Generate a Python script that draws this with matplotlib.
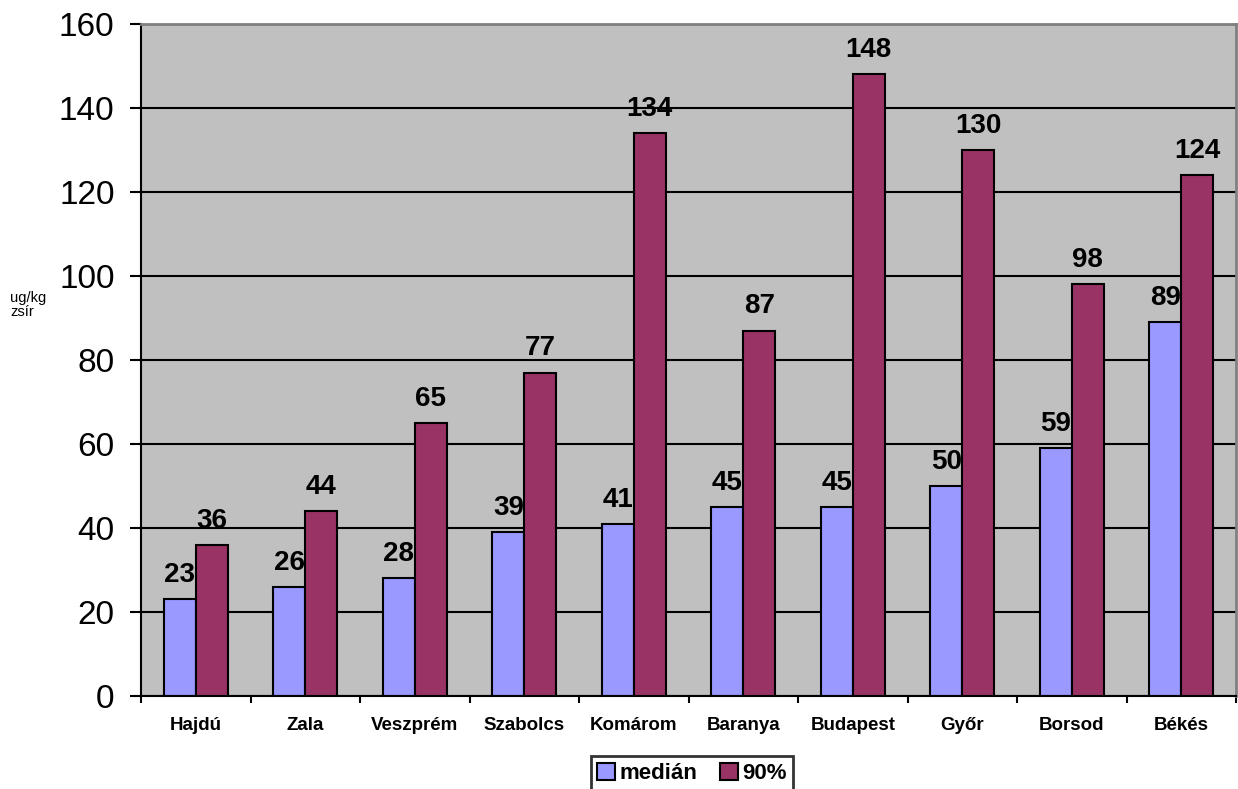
import matplotlib.pyplot as plt
import numpy as np

plt.rcParams['font.family'] = ['Liberation Sans', 'DejaVu Sans']

# data
megyek = ['Hajdú', 'Zala', 'Veszprém', 'Szabolcs', 'Komárom',
          'Baranya', 'Budapest', 'Győr', 'Borsod', 'Békés']
median = [23, 26, 28, 39, 41, 45, 45, 50, 59, 89]
p90 = [36, 44, 65, 77, 134, 87, 148, 130, 98, 124]

fig = plt.figure(figsize=(12.38, 7.89), dpi=100)
ax = fig.add_axes([141 / 1238, 1 - 696 / 789, 1095 / 1238, 672 / 789])
ax.set_facecolor('#C0C0C0')

x = np.arange(len(megyek))
w = 0.29
b1 = ax.bar(x - w / 2, median, w, color='#9999FF', edgecolor='black',
            linewidth=1.5, label='medián', zorder=2)
b2 = ax.bar(x + w / 2, p90, w, color='#993366', edgecolor='black',
            linewidth=1.5, label='90%', zorder=4)

for xi, v in zip(x, median):
    ax.annotate(str(v), (xi - w / 2, v), xytext=(0, 8), textcoords='offset points',
                ha='center', va='bottom', fontsize=20, fontweight='bold', zorder=3)
for xi, v in zip(x, p90):
    ax.annotate(str(v), (xi + w / 2, v), xytext=(0, 8), textcoords='offset points',
                ha='center', va='bottom', fontsize=20, fontweight='bold', zorder=5)

ax.set_xlim(-0.5, len(megyek) - 0.5)
ax.set_ylim(0, 160)
ax.set_yticks(range(0, 161, 20))
ax.tick_params(axis='y', labelsize=24, length=8, width=1.5, direction='out', pad=11)
ax.yaxis.grid(True, color='black', linewidth=1.5)
ax.set_axisbelow(True)

ax.set_xticks(x)
ax.set_xticklabels(megyek, fontsize=13.5, fontweight='bold')
ax.set_xticks(np.arange(-0.5, len(megyek), 1), minor=True)
ax.tick_params(axis='x', which='major', length=0, pad=15)
ax.tick_params(axis='x', which='minor', length=5, width=1.5, direction='out')

for s in ['left', 'bottom']:
    ax.spines[s].set_color('black')
    ax.spines[s].set_linewidth(1.5)
for s in ['top', 'right']:
    ax.spines[s].set_color('#808080')
    ax.spines[s].set_linewidth(2)

fig.text(10 / 1238, 1 - 305 / 789, 'ug/kg\nzsír', fontsize=10.5, ha='left', va='center',
         linespacing=1.0)

leg = fig.legend(loc='upper center', bbox_to_anchor=(692 / 1238, 1 - 756 / 789),
                 ncol=2, frameon=True, fancybox=False, prop={'size': 16, 'weight': 'bold'},
                 handlelength=0.8, handleheight=0.8, handletextpad=0.2, columnspacing=1.0,
                 borderpad=0.3, borderaxespad=0)
leg.get_frame().set_edgecolor('black')
leg.get_frame().set_linewidth(2)

fig.savefig('out.png', dpi=100)
